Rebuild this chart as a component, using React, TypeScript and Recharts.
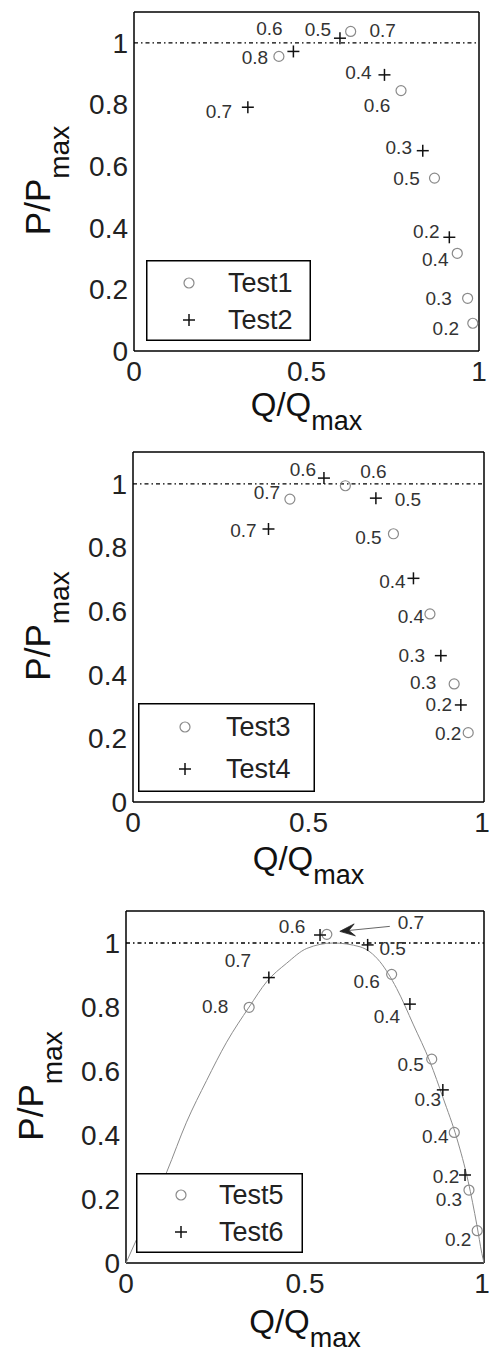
import React from 'react';
import { ScatterChart, Scatter, XAxis, YAxis, ReferenceLine, Legend, Label } from 'recharts';

const FONT = '"Liberation Sans", Arial, Helvetica, sans-serif';
const W = 489;
const Y_AXIS_W = 60;
const X_AXIS_H = 40;

// ---- data ----
const qTicks = [0, 0.5, 1];
const pTicks = [0, 0.2, 0.4, 0.6, 0.8, 1];

// panel 1
const test1Q = [0.42, 0.628, 0.774, 0.871, 0.937, 0.967, 0.982];
const test1P = [0.956, 1.037, 0.845, 0.561, 0.317, 0.171, 0.09];
const test1Labels = ['0.8', '0.7', '0.6', '0.5', '0.4', '0.3', '0.2'];
const test2Q = [0.33, 0.462, 0.597, 0.726, 0.837, 0.914];
const test2P = [0.791, 0.972, 1.015, 0.896, 0.65, 0.369];
const test2Labels = ['0.7', '0.6', '0.5', '0.4', '0.3', '0.2'];

// panel 2
const test3Q = [0.447, 0.605, 0.742, 0.846, 0.915, 0.955];
const test3P = [0.952, 0.994, 0.843, 0.591, 0.371, 0.218];
const test3Labels = ['0.7', '0.6', '0.5', '0.4', '0.3', '0.2'];
const test4Q = [0.386, 0.544, 0.692, 0.799, 0.877, 0.934];
const test4P = [0.858, 1.018, 0.955, 0.703, 0.46, 0.305];
const test4Labels = ['0.7', '0.6', '0.5', '0.4', '0.3', '0.2'];

// panel 3
const test5Q = [0.344, 0.561, 0.742, 0.854, 0.917, 0.958, 0.981];
const test5P = [0.799, 1.027, 0.902, 0.637, 0.408, 0.228, 0.101];
const test5Labels = ['0.8', '0.7', '0.6', '0.5', '0.4', '0.3', '0.2'];
const test6Q = [0.399, 0.542, 0.675, 0.793, 0.885, 0.947];
const test6P = [0.892, 1.025, 0.994, 0.809, 0.541, 0.275];
const test6Labels = ['0.7', '0.6', '0.5', '0.4', '0.3', '0.2'];

// fitted curve in panel 3
const fitQ = [0, 0.02, 0.114, 0.169, 0.225, 0.281, 0.344, 0.393, 0.449, 0.505, 0.579, 0.654, 0.709, 0.756, 0.803, 0.849, 0.886, 0.924, 0.956, 0.98, 0.994, 1];
const fitP = [0, 0.05, 0.285, 0.44, 0.57, 0.69, 0.8, 0.879, 0.937, 0.983, 1.0, 0.988, 0.942, 0.858, 0.744, 0.629, 0.515, 0.39, 0.254, 0.119, 0.03, 0];

// label placement, px offset of label centre from its marker
const test1Off = [[-24, 1], [32, -1], [-24, 15], [-28, 0], [-22, 6], [-29, 0], [-27, 5]];
const test2Off = [[-29, 4], [-24, -23], [-22, -9], [-26, -2], [-24, -3], [-23, -6]];
const test3Off = [[-23, -7], [28, -14], [-25, 4], [-19, 3], [-31, -1], [-20, 1]];
const test4Off = [[-25, 1], [-21, -9], [32, 1], [-21, 3], [-29, 0], [-22, 0]];
const test5Off = [[-34, -1], [84, -12], [-25, 7], [-21, 5], [-19, 4], [-20, 9], [-19, 9]];
const test6Off = [[-31, -17], [-28, -9], [25, 4], [-23, 12], [-15, 10], [-19, 1]];
const test5ArrowIndex = 1;

const table = (q: number[], p: number[], labels?: string[], off?: number[][], arrowAt = -1) =>
  q.map((v, i) => ({
    q: v,
    p: p[i],
    label: labels ? labels[i] : '',
    dx: off ? off[i][0] : 0,
    dy: off ? off[i][1] : 0,
    arrow: i === arrowAt,
  }));

const panels = [
  {
    top: 0,
    height: 440,
    plot: { left: 134, right: 479, top: 12, bottom: 351 },
    yLabelX: 50,
    xLabelY: 416,
    legend: { x: 146, y: 260, w: 165, h: 81, sym: 43, text: 82, rows: [23, 60] },
    circles: { name: 'Test1', data: table(test1Q, test1P, test1Labels, test1Off) },
    crosses: { name: 'Test2', data: table(test2Q, test2P, test2Labels, test2Off) },
    fit: null as any,
  },
  {
    top: 440,
    height: 460,
    plot: { left: 133, right: 484, top: 12, bottom: 362 },
    yLabelX: 50,
    xLabelY: 430,
    legend: { x: 138, y: 263, w: 177, h: 89, sym: 47, text: 88, rows: [24, 66] },
    circles: { name: 'Test3', data: table(test3Q, test3P, test3Labels, test3Off) },
    crosses: { name: 'Test4', data: table(test4Q, test4P, test4Labels, test4Off) },
    fit: null as any,
  },
  {
    top: 900,
    height: 460,
    plot: { left: 126, right: 484, top: 11, bottom: 363 },
    yLabelX: 43,
    xLabelY: 433,
    legend: { x: 136, y: 273, w: 167, h: 80, sym: 45, text: 83, rows: [22, 59] },
    circles: { name: 'Test5', data: table(test5Q, test5P, test5Labels, test5Off, test5ArrowIndex) },
    crosses: { name: 'Test6', data: table(test6Q, test6P, test6Labels, test6Off) },
    fit: table(fitQ, fitP),
  },
];

const CIRCLE_COLOR = '#8a8a8a';
const LABEL_COLOR = '#333';

function PointLabel({ cx, cy, payload }: any) {
  if (!payload.label) return null;
  return (
    <text
      x={cx + payload.dx}
      y={cy + payload.dy}
      textAnchor="middle"
      dominantBaseline="central"
      fontSize={19}
      fontFamily={FONT}
      fill={LABEL_COLOR}
    >
      {payload.label}
    </text>
  );
}

function Arrow({ cx, cy }: any) {
  const tail = [cx + 63, cy - 8];
  const tip = [cx + 13, cy - 3];
  const ux = tip[0] - tail[0];
  const uy = tip[1] - tail[1];
  const len = Math.hypot(ux, uy);
  const ex = ux / len;
  const ey = uy / len;
  const nx = -ey;
  const ny = ex;
  const L = 15;
  const Hw = 6;
  const bx = tip[0] - ex * L;
  const by = tip[1] - ey * L;
  const nb = [tip[0] - ex * L * 0.6, tip[1] - ey * L * 0.6];
  const pts = [
    tip,
    [bx + nx * Hw, by + ny * Hw],
    nb,
    [bx - nx * Hw, by - ny * Hw],
  ]
    .map((p) => p.join(','))
    .join(' ');
  return (
    <g>
      <line x1={tail[0]} y1={tail[1]} x2={nb[0]} y2={nb[1]} stroke="#666" strokeWidth={1} />
      <polygon points={pts} fill="#222" stroke="#222" strokeWidth={0.8} />
    </g>
  );
}

function CircleMark(props: any) {
  const { cx, cy, payload } = props;
  return (
    <g>
      <circle cx={cx} cy={cy} r={5} fill="none" stroke={CIRCLE_COLOR} strokeWidth={1.2} />
      <PointLabel {...props} />
      {payload.arrow && <Arrow cx={cx} cy={cy} />}
    </g>
  );
}

function CrossMark(props: any) {
  const { cx, cy } = props;
  return (
    <g>
      <line x1={cx - 6} y1={cy} x2={cx + 6} y2={cy} stroke="#111" strokeWidth={1.5} />
      <line x1={cx} y1={cy - 6} x2={cx} y2={cy + 6} stroke="#111" strokeWidth={1.5} />
      <PointLabel {...props} />
    </g>
  );
}

const NoMark = () => <g />;

function makeLegend(box: any) {
  return (props: any) => {
    const items = (props.payload || []).filter((it: any) => it.type !== 'none');
    return (
      <svg width={box.w} height={box.h} style={{ display: 'block' }}>
        <rect x={0.75} y={0.75} width={box.w - 1.5} height={box.h - 1.5} fill="#fff" stroke="#000" strokeWidth={1.5} />
        {items.map((it: any, i: number) => {
          const y = box.rows[i];
          const x = box.sym;
          return (
            <g key={it.value}>
              {it.type === 'circle' ? (
                <circle cx={x} cy={y} r={5} fill="none" stroke={CIRCLE_COLOR} strokeWidth={1.2} />
              ) : (
                <g stroke="#111" strokeWidth={1.5}>
                  <line x1={x - 6} y1={y} x2={x + 6} y2={y} />
                  <line x1={x} y1={y - 6} x2={x} y2={y + 6} />
                </g>
              )}
              <text x={box.text} y={y} dominantBaseline="central" fontSize={27} fontFamily={FONT} fill="#222">
                {it.value}
              </text>
            </g>
          );
        })}
      </svg>
    );
  };
}

const xLabel = (baseline: number) => (props: any) => {
  const vb = props.viewBox || {};
  const cx = vb.x + vb.width / 2;
  return (
    <text x={cx} y={baseline} textAnchor="middle" fontFamily={FONT} fill="#111" fontSize={33}>
      Q/Q
      <tspan fontSize={27} dy={14}>
        max
      </tspan>
    </text>
  );
};

const yLabel = (bx: number) => (props: any) => {
  const vb = props.viewBox || {};
  const cy = vb.y + vb.height / 2 - 1;
  return (
    <text
      transform={`translate(${bx},${cy}) rotate(-90)`}
      x={0}
      y={0}
      textAnchor="middle"
      fontFamily={FONT}
      fill="#111"
      fontSize={35}
    >
      P/P
      <tspan fontSize={28} dy={19}>
        max
      </tspan>
    </text>
  );
};

const tickStyle = { fontSize: 28, fill: '#222', fontFamily: FONT };
const frame = { stroke: '#000', strokeWidth: 1.5 };
const inTick = { stroke: '#000', strokeWidth: 1.2 };

function Panel({ cfg }: { cfg: (typeof panels)[number] }) {
  const { plot, height } = cfg;
  const margin = {
    top: plot.top,
    right: W - plot.right,
    bottom: height - plot.bottom - X_AXIS_H,
    left: plot.left - Y_AXIS_W,
  };
  const lg = cfg.legend;
  return (
    <ScatterChart width={W} height={height} margin={margin}>
      <XAxis
        xAxisId="main"
        type="number"
        dataKey="q"
        domain={[0, 1]}
        ticks={qTicks}
        allowDataOverflow
        height={X_AXIS_H}
        tickLine={false}
        tickSize={0}
        tickMargin={10}
        axisLine={frame}
        tick={tickStyle}
      >
        <Label content={xLabel(cfg.xLabelY)} />
      </XAxis>
      <XAxis xAxisId="inB" type="number" dataKey="q" domain={[0, 1]} ticks={qTicks} allowDataOverflow orientation="bottom" mirror tick={false} axisLine={false} tickLine={inTick} tickSize={5} />
      <XAxis xAxisId="inT" type="number" dataKey="q" domain={[0, 1]} ticks={qTicks} allowDataOverflow orientation="top" mirror tick={false} axisLine={frame} tickLine={inTick} tickSize={5} />
      <YAxis
        yAxisId="main"
        type="number"
        dataKey="p"
        domain={[0, 1.1]}
        ticks={pTicks}
        allowDataOverflow
        width={Y_AXIS_W}
        tickLine={false}
        tickSize={0}
        tickMargin={6}
        axisLine={frame}
        tick={tickStyle}
      >
        <Label content={yLabel(cfg.yLabelX)} />
      </YAxis>
      <YAxis yAxisId="inL" type="number" dataKey="p" domain={[0, 1.1]} ticks={pTicks} allowDataOverflow orientation="left" mirror tick={false} axisLine={false} tickLine={inTick} tickSize={5} />
      <YAxis yAxisId="inR" type="number" dataKey="p" domain={[0, 1.1]} ticks={pTicks} allowDataOverflow orientation="right" mirror tick={false} axisLine={frame} tickLine={inTick} tickSize={5} />
      <ReferenceLine xAxisId="main" yAxisId="main" y={1} stroke="#000" strokeWidth={1.3} strokeDasharray="4 3 1.5 3" />
      <Legend
        layout="vertical"
        align="center"
        verticalAlign="middle"
        wrapperStyle={{ position: 'absolute', left: lg.x, top: lg.y, width: lg.w, height: lg.h, margin: 0, padding: 0 }}
        content={makeLegend(lg)}
      />
      {cfg.fit && (
        <Scatter
          xAxisId="main"
          yAxisId="main"
          name="fit"
          data={cfg.fit}
          shape={NoMark}
          line={{ stroke: '#8c8c8c', strokeWidth: 1 }}
          lineJointType="monotoneX"
          legendType="none"
          isAnimationActive={false}
        />
      )}
      <Scatter
        xAxisId="main"
        yAxisId="main"
        name={cfg.circles.name}
        data={cfg.circles.data}
        shape={CircleMark}
        legendType="circle"
        isAnimationActive={false}
      />
      <Scatter
        xAxisId="main"
        yAxisId="main"
        name={cfg.crosses.name}
        data={cfg.crosses.data}
        shape={CrossMark}
        legendType="cross"
        isAnimationActive={false}
      />
    </ScatterChart>
  );
}

export default function App() {
  return (
    <div style={{ position: 'absolute', left: 0, top: 0, width: W, height: 1360, background: '#fff', fontFamily: FONT }}>
      {panels.map((cfg) => (
        <div key={cfg.top} style={{ position: 'absolute', left: 0, top: cfg.top }}>
          <Panel cfg={cfg} />
        </div>
      ))}
    </div>
  );
}
